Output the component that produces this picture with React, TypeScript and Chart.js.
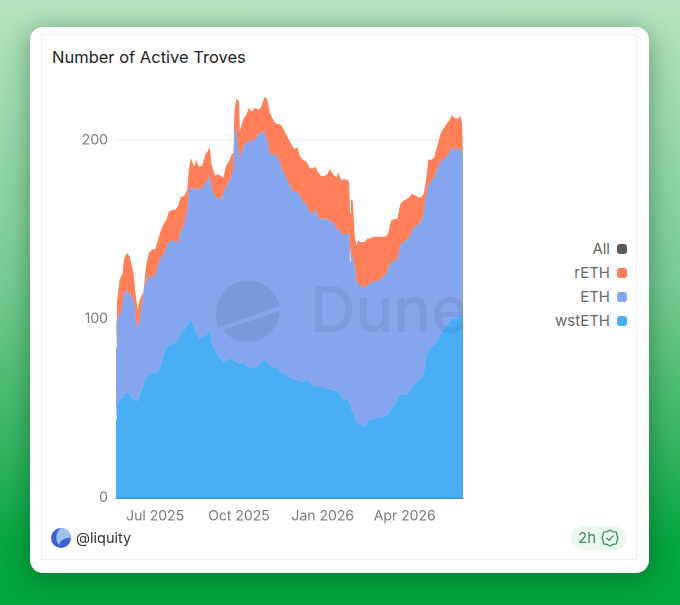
import React, { useEffect, useRef } from "react";
import { Chart, registerables } from "chart.js";

Chart.register(...registerables);

const title = "Number of Active Troves";
const legendItems = ["All", "rETH", "ETH", "wstETH"];
const yTicks = [0, 100, 200];
const tickDays = [43, 135, 227, 317];
const tickLabels = ["Jul 2025", "Oct 2025", "Jan 2026", "Apr 2026"];

// days since 19 May 2025
const days = [0,1,4,7,9,12,15,19,22,24,26,30,33,36,40,43,46,49,52,55,58,62,65,68,71,75,78,80,82,86,88,91,95,98,101,103,105,109,112,115,118,121,124,127,129,130,132,135,136,140,143,146,149,153,156,159,163,166,169,173,176,179,182,186,189,192,196,199,202,205,209,212,215,219,222,225,229,232,235,238,242,244,247,251,254,256,257,258,260,262,264,266,269,273,276,279,282,286,289,292,296,299,302,306,309,312,315,319,322,325,329,332,335,338,340,343,346,349,353,356,359,363,366,369,373,376,378,380,381];
const wstETH = [44,52,55,56,58,59,58,55,55,54,57,63,67,69,70,70,71,74,80,84,85,86,87,88,92,94,96,98,100,95,92,89,90,91,92,95,87,82,80,78,76,77,78,78,77,76,76,75,75,76,74,73,73,73,74,76,77,76,74,73,73,71,70,69,68,67,66,66,65,65,66,65,63,63,62,62,62,61,61,60,60,60,56,55,55,54,52,50,48,46,42,42,41,40,43,44,44,45,45,45,46,47,50,52,55,58,58,58,59,62,64,66,67,70,77,83,84,85,88,91,94,96,98,100,100,101,102,102,100];
const ETH = [40,48,47,52,57,57,56,56,45,41,42,51,55,55,53,55,59,60,56,56,58,58,56,55,57,59,64,74,73,78,81,83,84,85,86,85,86,86,88,89,94,97,99,102,107,128,131,115,115,121,124,127,126,128,129,128,128,124,118,119,119,118,114,111,109,106,105,105,104,101,98,95,96,98,95,94,94,95,94,94,91,90,92,92,93,93,80,90,86,84,78,78,78,77,76,76,77,76,77,78,79,81,82,81,78,83,85,86,86,88,88,87,87,90,91,92,93,94,96,97,95,95,95,96,95,94,93,92,91];
const rETH = [14,9,20,17,19,21,21,15,12,10,12,1,8,13,16,14,14,15,17,15,17,17,18,20,19,16,12,11,17,12,16,13,12,16,16,16,13,12,13,13,9,12,11,12,9,12,16,32,15,15,16,18,17,17,14,14,19,23,23,19,17,20,24,24,24,25,24,25,22,23,24,25,25,24,25,24,24,25,29,27,28,32,30,31,30,29,27,27,32,17,21,24,24,26,26,25,25,25,24,23,21,20,23,23,23,23,23,23,23,20,17,15,14,10,8,14,12,11,13,15,17,18,18,18,17,17,19,15,1];

const font = "Inter, 'Noto Sans', sans-serif";

function pts(values: number[]) {
  return values.map((y, i) => ({ x: days[i], y }));
}

export default function App() {
  const ref = useRef<HTMLCanvasElement>(null);

  useEffect(() => {
    const chart = new Chart(ref.current!, {
      type: "line",
      data: {
        datasets: [
          { label: "wstETH", data: pts(wstETH), backgroundColor: "#4aaef5", fill: "origin" },
          { label: "ETH", data: pts(ETH), backgroundColor: "#86a5ef", fill: "-1" },
          { label: "rETH", data: pts(rETH), backgroundColor: "#ff7f59", fill: "-1" },
        ],
      },
      options: {
        responsive: false,
        animation: false,
        devicePixelRatio: 2,
        layout: { padding: { top: 8, right: 17, left: 0, bottom: 0 } },
        elements: { point: { radius: 0 }, line: { borderWidth: 0, tension: 0 } },
        plugins: { legend: { display: false }, tooltip: { enabled: false } },
        scales: {
          x: {
            type: "linear",
            min: 0,
            max: 381,
            grid: { display: false, drawTicks: false },
            border: { display: true, color: "#3c93dd", width: 1.5, z: 2 },
            afterBuildTicks: (s: any) => {
              s.ticks = tickDays.map((value) => ({ value }));
            },
            afterFit: (s: any) => {
              s.height = 32;
            },
            ticks: {
              autoSkip: false,
              maxRotation: 0,
              padding: 10,
              color: "#777777",
              font: { family: font, size: 14 },
              callback: (v: any) => tickLabels[tickDays.indexOf(Number(v))] ?? "",
            },
          },
          y: {
            stacked: true,
            min: 0,
            max: 230,
            afterBuildTicks: (s: any) => {
              s.ticks = yTicks.map((value) => ({ value }));
            },
            afterFit: (s: any) => {
              s.width = 56;
            },
            grid: { color: "#e9e9e9", drawTicks: false, lineWidth: 1 },
            border: { display: false },
            ticks: {
              padding: 8,
              color: "#777777",
              font: { family: font, size: 14 },
            },
          },
        },
      },
    });
    return () => chart.destroy();
  }, []);

  return (
    <div
      style={{
        position: "fixed",
        left: 0,
        top: 0,
        width: 680,
        height: 605,
        overflow: "hidden",
        fontFamily: font,
        background: "linear-gradient(180deg,#b7e4c0 0%,#a4dcb1 14%,#74ca8f 48%,#34b460 74%,#04a640 90%,#03a53d 100%)",
      }}
    >
      <div
        style={{
          position: "absolute",
          left: 30,
          top: 27,
          width: 619,
          height: 546,
          background: "#fff",
          borderRadius: 13,
          boxShadow: "0 4px 26px rgba(0,50,25,0.42)",
        }}
      />
      <div
        style={{
          position: "absolute",
          left: 41,
          top: 34,
          width: 596,
          height: 526,
          border: "1px solid #eeeeee",
          boxSizing: "border-box",
        }}
      />
      <div style={{ position: "absolute", left: 52, top: 47, fontSize: 16.5, lineHeight: "20px", color: "#222" }}>{title}</div>

      <canvas ref={ref} width={420} height={460} style={{ position: "absolute", left: 60, top: 70, width: 420, height: 460 }} />

      <div style={{ position: "absolute", left: 116, top: 88, width: 347, height: 410, overflow: "hidden", pointerEvents: "none" }}>
        <svg style={{ position: "absolute", left: 100, top: 190 }} width="64" height="64" viewBox="0 0 64 64">
          <path d="M0.3 36 A32 32 0 0 1 63.6 28 L2 50 A32 32 0 0 1 0.3 36Z" fill="rgba(50,70,110,0.13)" />
          <path d="M63.9 33 A32 32 0 0 1 7 52 Z" fill="rgba(50,70,110,0.13)" />
        </svg>
        <div
          style={{
            position: "absolute",
            left: 194,
            top: 183,
            fontSize: 63,
            lineHeight: "76px",
            fontWeight: 500,
            color: "rgba(50,70,110,0.12)",
            whiteSpace: "nowrap",
          }}
        >
          Dune
        </div>
      </div>

      {legendItems.map((name, i) => (
        <React.Fragment key={name}>
          <div
            style={{
              position: "absolute",
              right: 70,
              top: 239 + i * 24,
              lineHeight: "20px",
              fontSize: 15,
              color: "#666",
            }}
          >
            {name}
          </div>
          <div
            style={{
              position: "absolute",
              left: 617,
              top: 244 + i * 24,
              width: 10,
              height: 10,
              borderRadius: 3,
              background: ["#5a5a5a", "#ff7f59", "#86a5ef", "#4aaef5"][i],
            }}
          />
        </React.Fragment>
      ))}

      <svg style={{ position: "absolute", left: 51, top: 528 }} width="20" height="20" viewBox="0 0 20 20">
        <circle cx="10" cy="10" r="10" fill="#3f5fd8" />
        <path d="M10 0 A10 10 0 0 1 20 10 A12 12 0 0 0 10 13 A10 10 0 0 0 8 17 A12 12 0 0 1 10 0Z" fill="#9cc4f0" />
      </svg>
      <div style={{ position: "absolute", left: 76, top: 528, fontSize: 14.5, lineHeight: "20px", color: "#333" }}>@liquity</div>

      <div style={{ position: "absolute", left: 571, top: 526, width: 55, height: 24, borderRadius: 12, background: "#eaf7ee" }} />
      <div style={{ position: "absolute", left: 578, top: 528, fontSize: 15, lineHeight: "20px", color: "#3f8a62" }}>2h</div>
      <svg style={{ position: "absolute", left: 601, top: 529 }} width="18" height="18" viewBox="0 0 18 18" fill="none" stroke="#3f8a62" strokeWidth="1.3">
        <path d="M9 1 L12 2.6 L15.4 3.2 L16 6.4 L17 9 L16 11.6 L15.4 14.8 L12 15.4 L9 17 L6 15.4 L2.6 14.8 L2 11.6 L1 9 L2 6.4 L2.6 3.2 L6 2.6 Z" strokeLinejoin="round" />
        <path d="M5.8 9.2 L8 11.3 L12.2 6.9" strokeLinecap="round" strokeLinejoin="round" />
      </svg>
    </div>
  );
}
